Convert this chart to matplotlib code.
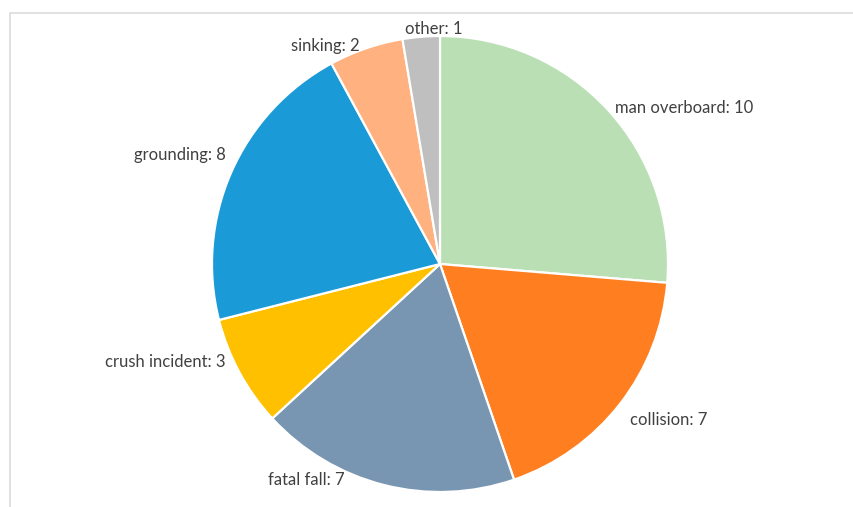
import matplotlib.pyplot as plt
from matplotlib.patches import Rectangle

# Accident causes and counts
causes = ["man overboard", "collision", "fatal fall", "crush incident",
          "grounding", "sinking", "other"]
counts = [10, 7, 7, 3, 8, 2, 1]
colors = ["#badfb5", "#ff7f20", "#7896b1", "#ffc000",
          "#1a9bd7", "#ffb180", "#bfbfbf"]

# label anchors (data units, pie radius = 1) and alignment
label_pos = [(0.767, 0.684), (0.833, -0.684), (-0.588, -0.947), (-0.94, -0.43),
             (-0.94, 0.478), (-0.504, 0.956), (-0.026, 1.03)]
label_ha = ["left", "left", "center", "right", "right", "center", "center"]

W, H = 854, 507
cx, cy, R = 440, 264, 228

fig = plt.figure(figsize=(W / 100, H / 100), dpi=100)
ax = fig.add_axes([0, 0, 1, 1])

ax.pie(counts, colors=colors, startangle=90, counterclock=False,
       radius=1, wedgeprops=dict(edgecolor="white", linewidth=1.6))

for cause, n, (x, y), ha in zip(causes, counts, label_pos, label_ha):
    ax.text(x, y, f"{cause}: {n}", ha=ha, va="center", fontsize=12,
            family="Lato", color="#404040")

ax.set_xlim(-cx / R, (W - cx) / R)
ax.set_ylim(-(H - cy) / R, cy / R)
ax.set_aspect("auto")
ax.axis("off")

# thin grey frame around the chart area
fig.patches.append(Rectangle((10 / W, -0.1), 1.2, 1.1 - 13 / H,
                             transform=fig.transFigure, fill=False,
                             edgecolor="#dcdcdc", linewidth=1.2))

fig.savefig("out.png", dpi=100)
